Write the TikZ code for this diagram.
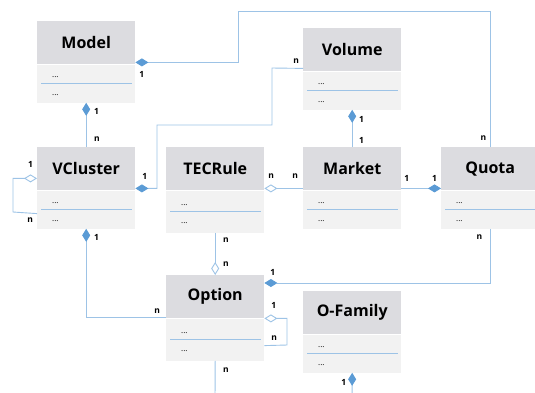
\documentclass[tikz,border=0pt]{standalone}
\usepackage{fontspec}
\setmainfont{Open Sans}
\usetikzlibrary{arrows.meta,positioning}
\definecolor{headgray}{HTML}{DCDCE0}
\definecolor{bodygray}{HTML}{F2F2F2}
\definecolor{linkblue}{HTML}{9DC3E6}
\definecolor{tipblue}{HTML}{5B9BD5}

\begin{document}
\begin{tikzpicture}[
    x=1pt, y=-1pt,
    head/.style={
      fill=headgray,
      anchor=north west,
      minimum width=98pt,
      minimum height=43pt,
      inner sep=0pt,
      font=\fontsize{16}{18}\selectfont\bfseries
    },
    body/.style={
      fill=bodygray,
      minimum width=98pt,
      minimum height=38pt,
      inner sep=0pt,
      below=0pt of #1
    },
    dots/.style={anchor=west, inner sep=0pt, font=\fontsize{8}{9}\selectfont},
    sep/.style={draw=linkblue, line width=0.7pt, dash pattern=on 0.35pt off 0.35pt},
    mult/.style={inner sep=1.5pt, font=\fontsize{8.5}{10}\selectfont\bfseries},
    link/.style={draw=linkblue, line width=0.9pt},
    comp/.style={link, {Diamond[length=13pt,width=8pt,color=tipblue,fill=tipblue]}-},
    compend/.style={link, -{Diamond[length=13pt,width=8pt,color=tipblue,fill=tipblue]}},
    aggr/.style={link, {Diamond[open,length=13pt,width=8pt,color=linkblue,fill=white]}-},
    aggrend/.style={link, -{Diamond[open,length=13pt,width=8pt,color=linkblue,fill=white]}}
  ]
    \useasboundingbox (0,0) rectangle (535,392);

    \node[head] (model) at (37,21) {Model};
    \node[body=model] (modelbody) {};
    \node[head] (volume) at (303,28) {Volume};
    \node[body=volume] (volumebody) {};
    \node[head] (vcluster) at (37,147) {VCluster};
    \node[body=vcluster] (vclusterbody) {};
    \node[head] (tecrule) at (166,147) {TECRule};
    \node[body=tecrule, minimum height=42pt] (tecrulebody) {};
    \node[head] (market) at (303,147) {Market};
    \node[body=market] (marketbody) {};
    \node[head] (quota) at (441,147) {Quota};
    \node[body=quota] (quotabody) {};
    \node[head] (option) at (166,275) {Option};
    \node[body=option, minimum height=42pt] (optionbody) {};
    \node[head] (ofamily) at (303,291) {O-Family};
    \node[body=ofamily] (ofamilybody) {};

    \foreach \c in {modelbody,volumebody,vclusterbody,tecrulebody,marketbody,quotabody,optionbody,ofamilybody} {
      \draw[sep] ([xshift=4pt]\c.west) -- ([xshift=-4pt]\c.east);
      \node[dots] (\c-a) at ([xshift=15pt,yshift=7pt]\c.west) {...};
      \node[dots] (\c-b) at ([xshift=15pt,yshift=-11pt]\c.west) {...};
    }

    \coordinate (optionout) at (215,400);
    \coordinate (ofamilyout) at (352,400);

    \draw[comp] ([yshift=2pt]model.south east) node[mult, below right=7pt and 2pt] {1}
      -| (238,11) -| (quota.north) node[mult, above left=5pt and 2pt] {n};
    \draw[comp] (modelbody.south) node[mult, below right=4pt and 6pt] {1}
      -- (vcluster.north) node[mult, above right=4pt and 6pt] {n};
    \draw[comp] ([yshift=2pt]vcluster.south east) node[mult, above right=7pt and 5pt] {1}
      -| (157,125) -| (272,68) -- ([yshift=3pt]volume.south west) node[mult, above left=3pt and 2pt] {n};
    \draw[aggr] ([yshift=12pt]vcluster.south west) node[mult, above left=9pt and 2pt] {1}
      -| (13,212) -- ([yshift=-4pt]vclusterbody.west) node[mult, below left=2pt and 2pt] {n};
    \draw[aggr] ([yshift=2pt]tecrule.south east) node[mult, above right=8pt and 2pt] {n}
      -- ([yshift=2pt]market.south west) node[mult, above left=8pt and 3pt] {n};
    \draw[comp] (volumebody.south) node[mult, below right=5pt and 5pt] {1}
      -- (market.north) node[mult, above right=2pt and 5pt] {1};
    \draw[compend] ([yshift=2pt]market.south east) node[mult, above right=5pt and 1pt] {1}
      -- ([yshift=2pt]quota.south west) node[mult, above left=5pt and 2pt] {1};
    \draw[aggrend] (tecrulebody.south) node[mult, below right=3pt and 6pt] {n}
      -- (option.north) node[mult, above right=7pt and 6pt] {n};
    \draw[comp] (vclusterbody.south) node[mult, below right=4pt and 6pt] {1}
      |- ([yshift=1pt]option.south west) node[mult, above left=2pt and 4pt] {n};
    \draw[compend] (quotabody.south) node[mult, below left=4pt and 6pt] {n}
      |- ([yshift=-8pt]option.north east) node[mult, above right=6pt and 4pt] {1};
    \draw[aggr] (option.south east) node[mult, above right=8pt and 5pt] {1}
      -| (287,345) -- ([yshift=-6pt]optionbody.east) node[mult, above right=3pt and 5pt] {n};
    \draw[link] (optionbody.south) node[mult, below right=5pt and 6pt] {n} -- (optionout);
    \draw[comp] (ofamilybody.south) node[mult, below left=5pt and 4pt] {1} -- (ofamilyout);
  \end{tikzpicture}
\end{document}
